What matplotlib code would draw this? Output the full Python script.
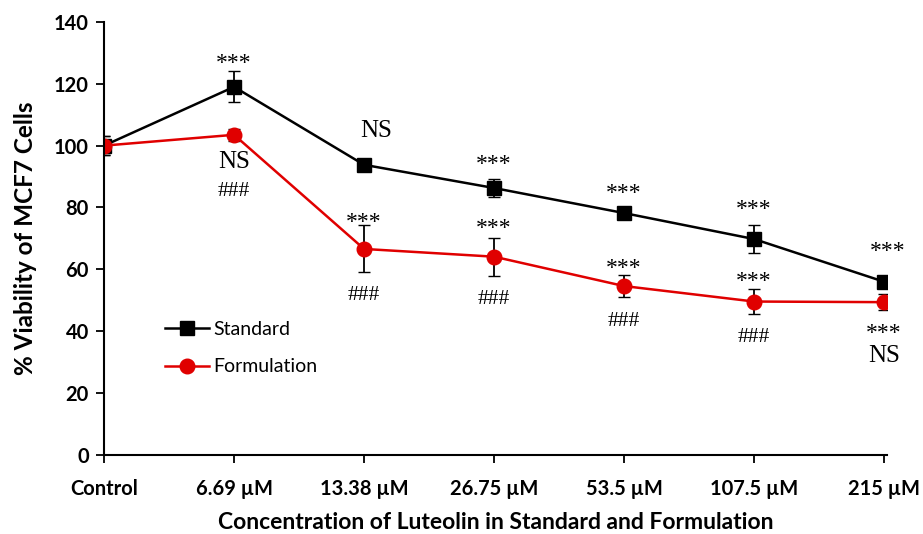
import matplotlib
matplotlib.use("Agg")
import matplotlib.pyplot as plt
from matplotlib.lines import Line2D

# data
labels = ["Control", "6.69 µM", "13.38 µM", "26.75 µM", "53.5 µM", "107.5 µM", "215 µM"]
standard = [100, 119, 93.8, 86.3, 78.2, 69.8, 56]
standard_err = [3, 5, 2, 3, 1.5, 4.5, 2]
formulation = [100, 103.5, 66.6, 64.1, 54.6, 49.6, 49.4]
formulation_err = [3, 2, 7.6, 6.2, 3.5, 4, 2.5]

# significance marks: (x index, y value, text)
marks = [
    (1, 128.7, "***"), (1, 94.7, "NS"), (1, 85.3, "###"),
    (2.09, 104.7, "NS"), (2, 77.3, "***"), (2, 51.4, "###"),
    (3, 96, "***"), (3, 75.3, "***"), (3, 50.1, "###"),
    (4, 86.6, "***"), (4, 62.4, "***"), (4, 43.3, "###"),
    (5, 81.5, "***"), (5, 58.2, "***"), (5, 38.1, "###"),
    (6.03, 67.9, "***"), (6, 41.4, "***"), (6, 32, "NS"),
]

plt.rcParams['font.family'] = ['Lato', 'DejaVu Sans']

fig = plt.figure(figsize=(9.23, 5.34), dpi=100)
ax = fig.add_axes([0.1127, 0.148, 0.848, 0.811])

x = list(range(len(labels)))
ax.errorbar(x, standard, yerr=standard_err, color="black", marker="s", markersize=10,
            linewidth=1.8, capsize=4, elinewidth=1.3, zorder=3)
ax.errorbar(x, formulation, yerr=formulation_err, color="#e00000", ecolor="black",
            marker="o", markersize=10.5, linewidth=1.8, capsize=4, elinewidth=1.3,
            zorder=4)

for xi, yi, t in marks:
    if t == "***":
        ax.text(xi, yi - 2.2, t, ha="center", va="center", fontsize=17,
                family="Liberation Serif")
    elif t == "###":
        ax.text(xi, yi, t, ha="center", va="center", fontsize=15.5,
                family="Liberation Serif")
    else:
        ax.text(xi, yi, t, ha="center", va="center", fontsize=18,
                family="Liberation Serif")

ax.set_xlim(0, 6.02)
ax.set_ylim(0, 140)
ax.set_yticks(range(0, 141, 20))
ax.set_xticks(x)
ax.set_xticklabels(labels, fontsize=14.5, fontweight="bold")
for lb in ax.get_yticklabels():
    lb.set_fontsize(14.5)
    lb.set_fontweight("bold")
ax.tick_params(axis="x", length=6, width=1.3, pad=11)
ax.tick_params(axis="y", length=6, width=1.3, pad=5)
ax.spines["top"].set_visible(False)
ax.spines["right"].set_visible(False)
ax.spines["left"].set_linewidth(1.5)
ax.spines["bottom"].set_linewidth(1.5)
ax.spines["left"].set_zorder(5)

ax.set_xlabel("Concentration of Luteolin in Standard and Formulation", fontsize=16.5,
              fontweight="bold", labelpad=10)
ax.set_ylabel("% Viability of MCF7 Cells", fontsize=17.5, fontweight="bold", labelpad=12)

handles = [
    Line2D([], [], color="black", marker="s", markersize=10, linewidth=1.8),
    Line2D([], [], color="#e00000", marker="o", markersize=10.5, linewidth=1.8),
]
ax.legend(handles, ["Standard", "Formulation"], loc="upper left",
          bbox_to_anchor=(0.055, 0.35), frameon=False, fontsize=14,
          handlelength=2.3, labelspacing=1.05, handletextpad=0.2)

fig.savefig("out.png", dpi=100)
